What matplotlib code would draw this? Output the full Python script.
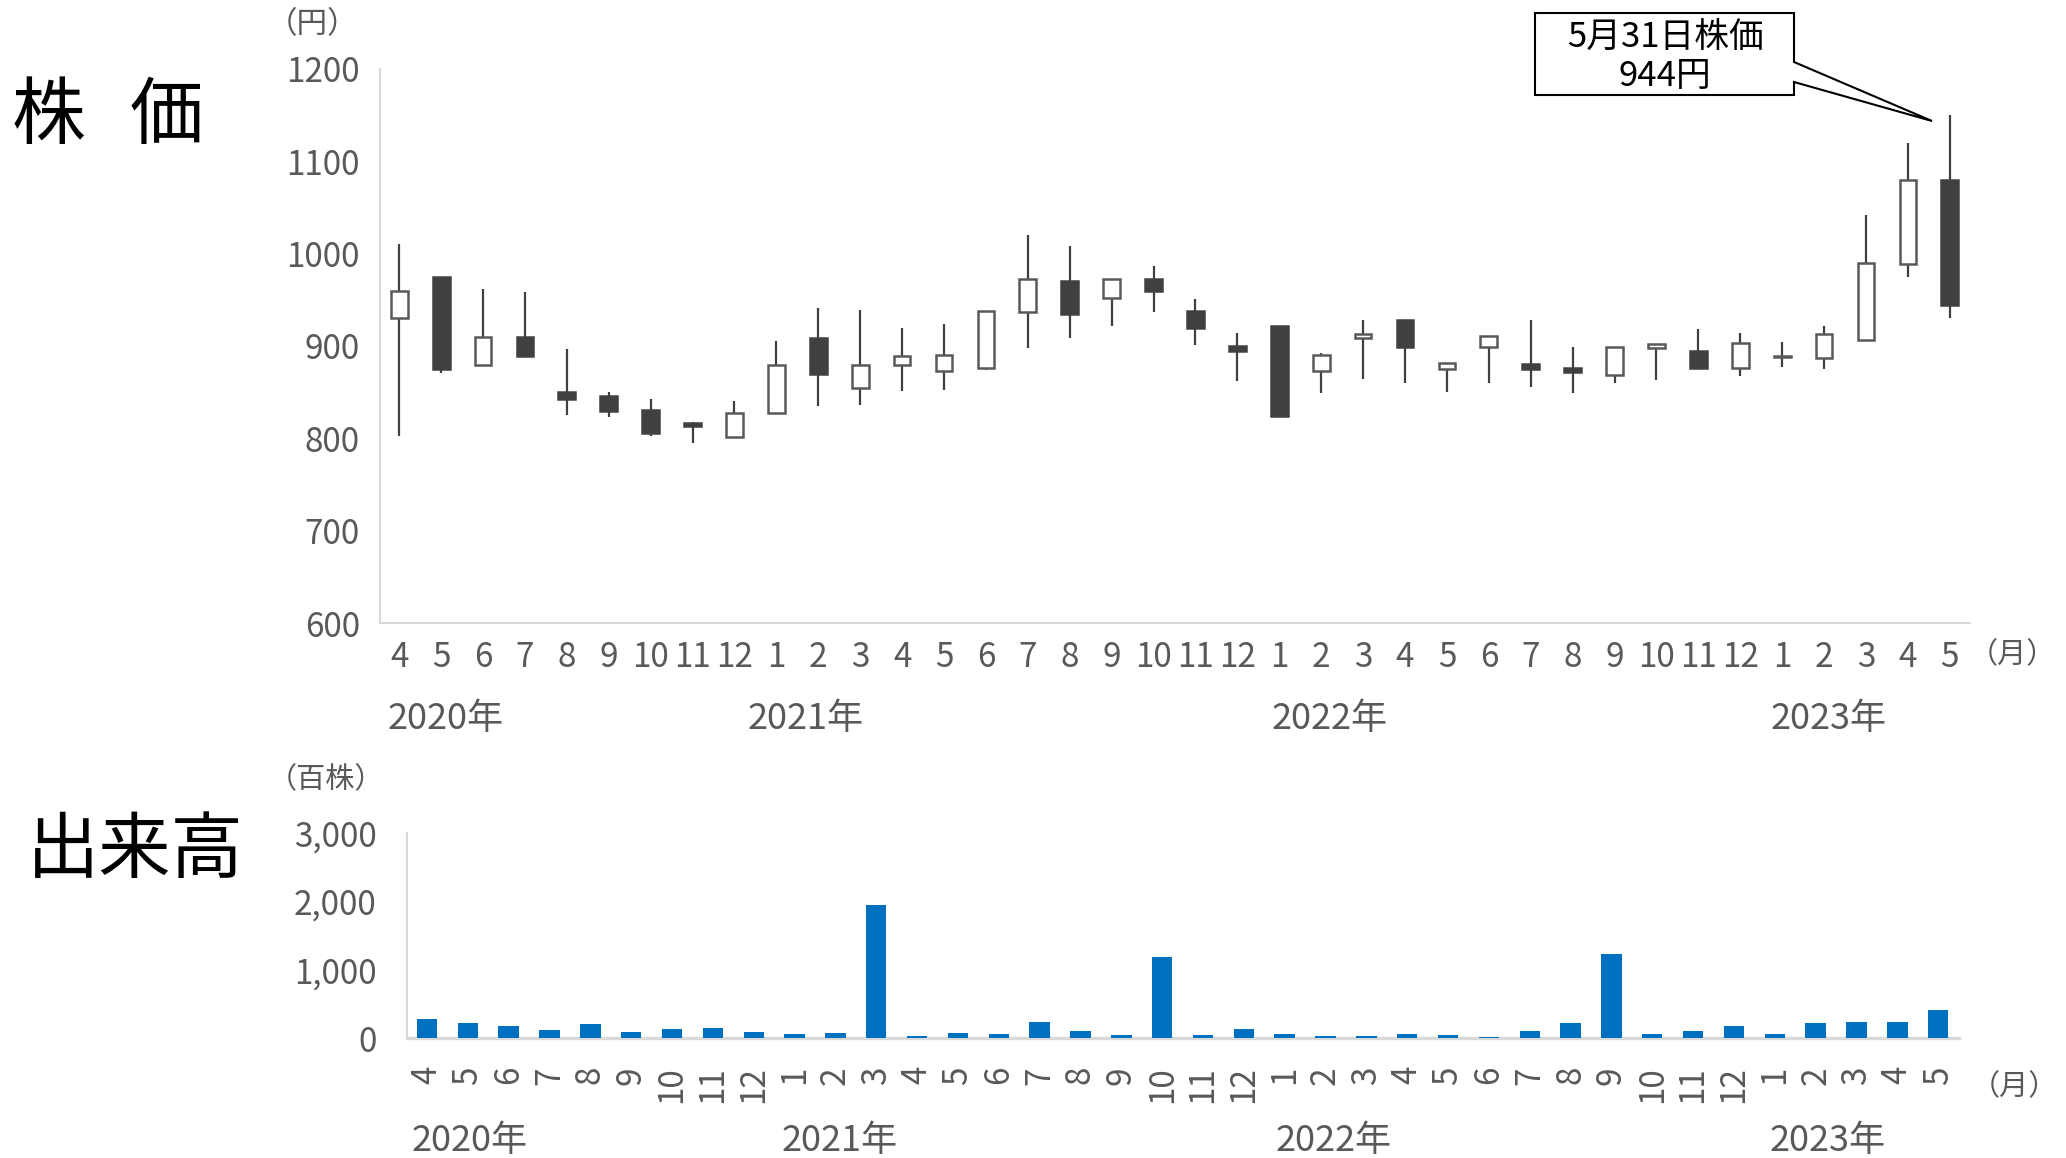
import matplotlib
matplotlib.use('Agg')
import matplotlib.pyplot as plt
from matplotlib.patches import Polygon
import matplotlib.transforms as mtransforms

plt.rcParams['font.family'] = ['Noto Sans CJK JP', 'DejaVu Sans']

# データ（2020年4月〜2023年5月、月足）
months = ['4', '5', '6', '7', '8', '9', '10', '11', '12',
          '1', '2', '3', '4', '5', '6', '7', '8', '9', '10', '11', '12',
          '1', '2', '3', '4', '5', '6', '7', '8', '9', '10', '11', '12',
          '1', '2', '3', '4', '5']
years = ['2020年', '2021年', '2022年', '2023年']

open_p = [930, 974, 879, 910, 850, 846, 831, 817, 801,
          827, 909, 854, 879, 873, 876, 937, 970, 952, 972, 938, 900,
          921, 873, 909, 928, 875, 899, 880, 876, 869, 898, 894, 876,
          888, 887, 906, 989, 1079]
high_p = [1010, 975, 962, 958, 897, 850, 843, 818, 840,
          905, 941, 939, 919, 924, 938, 1020, 1008, 972, 986, 951, 914,
          921, 892, 928, 928, 882, 911, 928, 899, 899, 902, 918, 914,
          904, 922, 1042, 1119, 1150]
low_p = [803, 871, 879, 889, 825, 823, 803, 795, 801,
         827, 835, 836, 851, 852, 874, 898, 908, 922, 937, 901, 862,
         824, 849, 864, 860, 850, 860, 855, 849, 860, 863, 876, 867,
         877, 875, 906, 975, 930]
close_p = [959, 875, 910, 889, 843, 830, 806, 813, 827,
           879, 870, 879, 889, 890, 938, 972, 934, 972, 959, 919, 894,
           824, 890, 913, 899, 882, 911, 875, 872, 899, 902, 876, 903,
           889, 913, 990, 1079, 944]

volume = [283, 220, 176, 127, 210, 88, 141, 156, 98,
          63, 73, 1941, 34, 78, 63, 239, 112, 49, 1185, 54, 141,
          68, 39, 34, 59, 44, 24, 107, 229, 1229, 68, 112, 180,
          63, 224, 244, 244, 415]

callout_text = '5月31日株価\n944円'

# レイアウト
W, H = 2066, 1158
fig = plt.figure(figsize=(W / 100, H / 100), dpi=100)
ax1 = fig.add_axes([0.1837, 0.4618, 0.7698, 0.479])
ax2 = fig.add_axes([0.197, 0.1034, 0.7512, 0.1775])

gray_txt = '#595959'
dark = '#404040'
x = list(range(len(months)))

# ローソク足
ax1.vlines(x, low_p, high_p, color=dark, linewidth=1.6, zorder=2)
for i in x:
    o, c = open_p[i], close_p[i]
    up = c >= o
    bottom = min(o, c)
    h = max(abs(c - o), 1.5)
    ax1.bar(i, h, bottom=bottom, width=0.4,
            facecolor='white' if up else dark,
            edgecolor='#595959' if up else dark,
            linewidth=1.8, zorder=3)

ax1.set_xlim(-0.47, len(months) - 1 + 0.48)
ax1.set_ylim(600, 1200)
ax1.set_yticks(range(600, 1201, 100))
ax1.set_xticks(x)
ax1.set_xticklabels(months)
ax1.tick_params(axis='both', length=0, labelsize=24, colors=gray_txt)
ax1.tick_params(axis='y', pad=14)
ax1.tick_params(axis='x', pad=12)
for s in ['top', 'right']:
    ax1.spines[s].set_visible(False)
for s in ['left', 'bottom']:
    ax1.spines[s].set_color('#D9D9D9')
    ax1.spines[s].set_linewidth(1.5)

# 出来高
ax2.bar(x, volume, width=0.5, color='#0070C0', zorder=3)
ax2.set_xlim(-0.49, len(months) - 1 + 0.51)
ax2.set_ylim(0, 3000)
ax2.set_yticks([0, 1000, 2000, 3000])
ax2.set_yticklabels(['0', '1,000', '2,000', '3,000'])
ax2.set_xticks(x)
ax2.set_xticklabels(months, rotation=90)
ax2.tick_params(axis='both', length=0, labelsize=24, colors=gray_txt)
ax2.tick_params(axis='y', pad=22)
ax2.tick_params(axis='x', pad=20)
for s in ['top', 'right']:
    ax2.spines[s].set_visible(False)
ax2.spines['left'].set_color('#D9D9D9')
ax2.spines['left'].set_linewidth(1.5)
ax2.spines['bottom'].set_color('#D9D9D9')
ax2.spines['bottom'].set_linewidth(2.5)

# 年ラベル
t1 = mtransforms.blended_transform_factory(ax1.transData, ax1.transAxes)
for yr, px in zip(years, [1.1, 9.7, 22.2, 34.1]):
    ax1.text(px, -0.172, yr, transform=t1, ha='center', va='center',
             fontsize=26, color=gray_txt)
t2 = mtransforms.blended_transform_factory(ax2.transData, ax2.transAxes)
for yr, px in zip(years, [1.05, 10.1, 22.2, 34.3]):
    ax2.text(px, -0.5, yr, transform=t2, ha='center', va='center',
             fontsize=26, color=gray_txt)

# 単位・見出し
fig.text(313 / W, 1 - 25 / H, '（円）', ha='center', va='center', fontsize=22, color=gray_txt)
fig.text(326 / W, 1 - 780 / H, '（百株）', ha='center', va='center', fontsize=21, color=gray_txt)
fig.text(2012 / W, 1 - 655 / H, '（月）', ha='center', va='center', fontsize=21, color=gray_txt)
fig.text(2014 / W, 1 - 1087 / H, '（月）', ha='center', va='center', fontsize=21, color=gray_txt)
fig.text(48 / W, 1 - 117 / H, '株', ha='center', va='center', fontsize=53, color='black')
fig.text(166 / W, 1 - 117 / H, '価', ha='center', va='center', fontsize=53, color='black')
fig.text(135 / W, 1 - 852 / H, '出来高', ha='center', va='center', fontsize=52, color='black')

# 吹き出し
pts = [(1535, 13), (1794, 13), (1794, 62), (1932, 121), (1794, 82), (1794, 95), (1535, 95)]
fig.patches.append(Polygon([(px / W, 1 - py / H) for px, py in pts], closed=True,
                           transform=fig.transFigure, facecolor='white',
                           edgecolor='black', linewidth=1.5, zorder=5))
fig.text(1665 / W, 1 - 57 / H, callout_text, ha='center', va='center',
         fontsize=25, color='black', linespacing=1.12, zorder=6)

fig.savefig('out.png', dpi=100)
